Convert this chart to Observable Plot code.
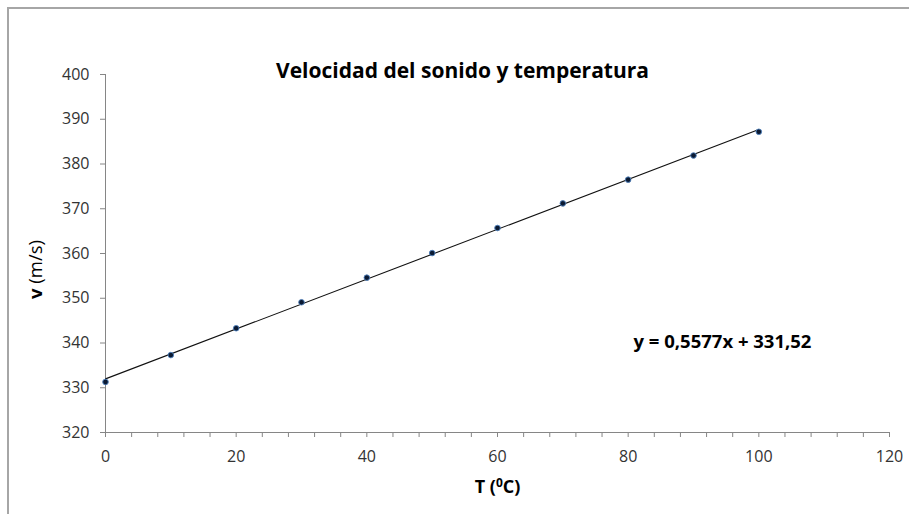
<!DOCTYPE html>
<html>
<head>
<meta charset="utf-8">
<script src="https://cdn.jsdelivr.net/npm/d3@7"></script>
<script src="https://cdn.jsdelivr.net/npm/@observablehq/plot@0.6"></script>
<style>
  html, body { margin: 0; padding: 0; background: #fff; }
  #frame { position: absolute; left: 7px; top: 7px; width: 910px; height: 520px;
           border-left: 2px solid #a6a6a6; border-top: 2px solid #a6a6a6; box-sizing: border-box; }
  #chart { position: absolute; left: 0; top: 0; }
</style>
</head>
<body>
<div id="frame"></div>
<div id="chart"></div>
<script>
// Data
const temperatures = [0, 10, 20, 30, 40, 50, 60, 70, 80, 90, 100];
const speeds = [331.3, 337.3, 343.3, 349.1, 354.6, 360.1, 365.7, 371.2, 376.5, 381.9, 387.2];
const xTickLabels = [0, 20, 40, 60, 80, 100, 120];
const xMinorTicks = [0, 4, 8, 12, 16, 20, 24, 28, 32, 36, 40, 44, 48, 52, 56, 60, 64, 68, 72, 76, 80, 84, 88, 92, 96, 100, 104, 108, 112, 116, 120];
const yTickLabels = [320, 330, 340, 350, 360, 370, 380, 390, 400];
const titleText = "Velocidad del sonido y temperatura";
const equationText = "y = 0,5577x + 331,52";

const data = temperatures.map((t, i) => ({ t, v: speeds[i] }));

const font = "'Open Sans', 'Liberation Sans', sans-serif";
const axisGray = "#868686";
const textColor = "#333333";

const plot = Plot.plot({
  width: 909,
  height: 514,
  marginLeft: 105,
  marginRight: 20,
  marginTop: 74,
  marginBottom: 82,
  style: { fontFamily: font, fontSize: "16px", color: textColor, background: "transparent", overflow: "visible" },
  x: { domain: [0, 120], label: null },
  y: { domain: [320, 400], label: null },
  marks: [
    Plot.axisX(xMinorTicks, { tickSize: 5, tickFormat: () => "", stroke: axisGray }),
    Plot.axisX(xTickLabels, { tickSize: 0, tickPadding: 18, fill: textColor, fontSize: 16 }),
    Plot.axisY(yTickLabels, { tickSize: 5, tickPadding: 11, stroke: axisGray, fill: textColor, fontSize: 16 }),
    Plot.ruleY([320], { stroke: axisGray, strokeWidth: 1 }),
    Plot.ruleX([0], { stroke: axisGray, strokeWidth: 1 }),
    Plot.linearRegressionY(data, { x: "t", y: "v", ci: 0, stroke: "#111", strokeWidth: 1.1 }),
    Plot.dot(data, { x: "t", y: "v", r: 2.8, fill: "#0b1a33", stroke: "#4f81bd", strokeWidth: 0.9 }),
    Plot.text([titleText], { frameAnchor: "top", lineAnchor: "middle", dx: -35, dy: -3, fontSize: 21, fontWeight: "bold", fill: "#000" }),
    Plot.text([equationText], { frameAnchor: "top-left", textAnchor: "start", lineAnchor: "middle", dx: 528, dy: 268, fontSize: 18.5, fontWeight: "bold", fill: "#000" }),
    Plot.text(["T (0C)"], { frameAnchor: "bottom", lineAnchor: "middle", dy: 55, fontSize: 18, fontWeight: "bold", fill: "#000", className: "xlabel" }),
    Plot.text(["v (m/s)"], { frameAnchor: "left", textAnchor: "middle", lineAnchor: "middle", dx: -69, dy: 16, rotate: -90, fontSize: 18.5, fill: "#000", className: "ylabel" })
  ]
});

document.getElementById("chart").appendChild(plot);

// rich text for axis labels
d3.select(plot).selectAll(".xlabel text").each(function () {
  const t = d3.select(this);
  t.text(null);
  t.append("tspan").text("T (");
  t.append("tspan").attr("font-size", "12").attr("dy", "-6").text("0");
  t.append("tspan").attr("dy", "6").text("C)");
});
d3.select(plot).selectAll(".ylabel text").each(function () {
  const t = d3.select(this);
  t.text(null);
  t.append("tspan").attr("font-weight", "bold").text("v");
  t.append("tspan").text(" (m/s)");
});
</script>
</body>
</html>
